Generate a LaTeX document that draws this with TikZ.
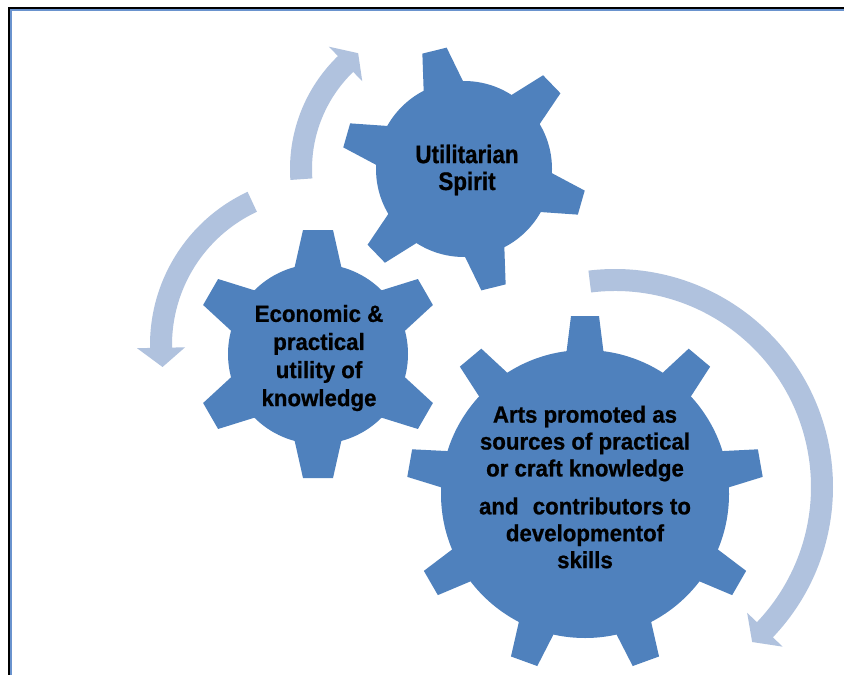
\documentclass[tikz,border=0pt]{standalone}
\usepackage{fontspec}
\newfontfamily\gfa{Liberation Sans}[FakeStretch=0.88, BoldFeatures={FakeBold=0.8}]
\newfontfamily\gfb{Liberation Sans}[FakeStretch=0.95, BoldFeatures={FakeBold=0.8}]
\usetikzlibrary{calc}
\definecolor{gearblue}{HTML}{4F81BD}
\definecolor{arrowblue}{HTML}{B0C2DE}
\definecolor{frameblue}{HTML}{6A93CE}

% gear: centre x, centre y, tip radius, body radius, teeth, first tooth angle, tip half-width, base half-width
\newcommand{\drawgear}[8]{%
  \begin{scope}[shift={(#1,#2)}]
    \fill[gearblue] (0,0) circle[radius=#4];
    \foreach \k in {1,...,#5}{
      \pgfmathsetmacro{\ph}{-(#6+360*\k/#5)}
      \fill[gearblue]
        ({\ph-atan(#8/(#4-6))}:{veclen(#4-6,#8)}) --
        ({\ph-atan(#7/#3)}:{veclen(#3,#7)}) --
        ({\ph+atan(#7/#3)}:{veclen(#3,#7)}) --
        ({\ph+atan(#8/(#4-6))}:{veclen(#4-6,#8)}) -- cycle;
    }
  \end{scope}}

% curved block arrow: centre x, centre y, radius, band half-width, head half-width, start angle, head base angle, tip angle
\newcommand{\circarrow}[8]{%
  \fill[arrowblue]
    ($(#1,#2)+(#6:#3-#4)$) arc[start angle=#6, end angle=#7, radius=#3-#4]
    -- ($(#1,#2)+(#7:#3-#5)$) -- ($(#1,#2)+(#8:#3)$) -- ($(#1,#2)+(#7:#3+#5)$)
    -- ($(#1,#2)+(#7:#3+#4)$) arc[start angle=#7, end angle=#6, radius=#3+#4] -- cycle;}

\tikzset{
  geartext/.style={align=center, inner sep=0pt, text=black},
}

\begin{document}
\begin{tikzpicture}[x=1bp, y=-1bp]
  \useasboundingbox (0,0) rectangle (844,675);
  \fill[white] (0,0) rectangle (844,675);

  % page frame
  \fill[black] (8,7.2) rectangle (844,9.4);
  \fill[black] (8,7.2) rectangle (10,675);
  \fill[frameblue] (10,9.4) rectangle (844,11);
  \fill[frameblue] (10,9.4) rectangle (12.2,675);

  % cycle arrows
  \circarrow{447}{169}{146}{11}{24}{-184}{-134}{-127.5}
  \circarrow{319}{345}{158}{11}{24}{-115}{-181}{-188}
  \circarrow{615}{487}{207}{11}{24.5}{-97}{43.6}{48.5}

  % gears
  \drawgear{464}{169}{122}{88}{6}{104}{12.5}{21}
  \drawgear{318}{354}{124}{90}{6}{90}{15}{24}
  \drawgear{585}{494}{178}{144}{9}{90}{14}{19}

  % labels
  \node[geartext, font=\gfa\bfseries\fontsize{25.5}{27}\selectfont] (spirit) at (467,170)
    {Utilitarian\\Spirit};
  \node[geartext, font=\gfb\bfseries\fontsize{23.5}{28.2}\selectfont] (econ) at (319,358)
    {Economic \&\\practical\\utility of\\knowledge};
  \node[geartext, font=\gfb\bfseries\fontsize{23.5}{27}\selectfont] (arts) at (585,487)
    {Arts promoted as\\sources of practical\\or craft knowledge\\[11bp]
     and\hspace{8bp} contributors to\\developmentof\\skills};
\end{tikzpicture}
\end{document}
